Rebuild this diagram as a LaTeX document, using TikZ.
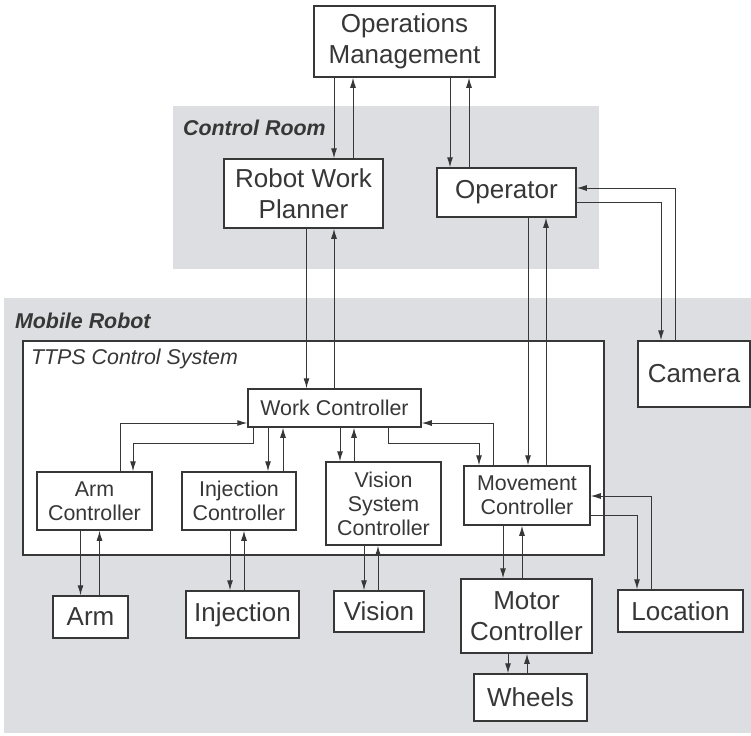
\documentclass[tikz,border=0pt]{standalone}
\usepackage{fontspec}
\setmainfont{Liberation Sans}
\usetikzlibrary{arrows.meta,positioning,calc}

\definecolor{regionc}{RGB}{220,222,225}
\definecolor{linec}{RGB}{55,55,55}

\newcommand{\bigfont}{\fontsize{13}{15.5}\selectfont}
\newcommand{\smallfont}{\fontsize{10.7}{12}\selectfont}

\tikzset{
  box/.style={draw=linec, fill=white, line width=0.75pt, inner sep=0pt,
    align=center, text=linec, font=\bigfont},
  smallbox/.style={box, font=\smallfont},
  boxsize/.style 2 args={minimum width=#1*0.5pt, minimum height=#2*0.5pt},
  arr/.style={draw=linec, line width=0.5pt, -{Latex[length=5pt,width=3pt]}},
  line/.style={draw=linec, line width=0.5pt},
  region/.style={fill=regionc, draw=none},
  regionlabel/.style={anchor=west, text=linec, font=\smallfont\bfseries\itshape},
}

\begin{document}
\begin{tikzpicture}[x=0.5pt, y=-0.5pt]
\useasboundingbox (0,0) rectangle (751,735);

% areas
\fill[region] (173,106) rectangle (599,269);
\fill[region] (4,298) rectangle (751,733);
\draw[line, fill=white, line width=0.75pt] (23,341) rectangle (604,555);
\node[regionlabel] (croom) at (176,128) {Control Room};
\node[regionlabel] (mrobot) at (8,321) {Mobile Robot};
\node[anchor=west, text=linec, font=\smallfont\itshape] (ttps) at (24,359) {TTPS Control System};

% outside boxes
\node[box, boxsize={181}{71}] (ops) at (404.5,41.5) {Operations\\Management};
\node[box, boxsize={159}{69}] (rwp) at (303.5,193.5) {Robot Work\\Planner};
\node[box, boxsize={139}{49}] (oper) at (506.5,192.5) {Operator};
\node[box, boxsize={112}{66}] (camera) at (694,374) {Camera};

% control system
\node[smallbox, boxsize={173}{38}] (wc) at (334.5,408) {Work Controller};
\node[smallbox, boxsize={115}{58}] (armc) at (94.5,501) {Arm\\Controller};
\node[smallbox, boxsize={114}{58}] (injc) at (239,501) {Injection\\Controller};
\node[smallbox, boxsize={115}{83}] (visc) at (383.5,503.5) {Vision\\System\\Controller};
\node[smallbox, boxsize={126}{59}] (movc) at (527,495.5) {Movement\\Controller};

% devices
\node[box, boxsize={75}{42}] (arm) at (90.5,617) {Arm};
\node[box, boxsize={113}{47}] (inj) at (242.5,614.5) {Injection};
\node[box, boxsize={90}{41}] (vis) at (379,611.5) {Vision};
\node[box, boxsize={131}{74}] (motor) at (526.5,616) {Motor\\Controller};
\node[box, boxsize={125}{42}] (loc) at (680.5,611) {Location};
\node[box, boxsize={113}{47}] (wheels) at (530.5,697.5) {Wheels};

% control room links
\draw[arr] (ops.south -| 334,0) -- (rwp.north -| 334,0);
\draw[arr] (rwp.north -| 353,0) -- (ops.south -| 353,0);
\draw[arr] (ops.south -| 450,0) -- (oper.north -| 450,0);
\draw[arr] (oper.north -| 469,0) -- (ops.south -| 469,0);
\draw[arr] (rwp.south -| 306.5,0) -- (wc.north -| 306.5,0);
\draw[arr] (wc.north -| 334,0) -- (rwp.south -| 334,0);
\draw[arr] (oper.south -| 528,0) -- (movc.north -| 528,0);
\draw[arr] (movc.north -| 546,0) -- (oper.south -| 546,0);
\draw[arr] (oper.east |- 0,202) -| (661,0 |- camera.north);
\draw[arr] (675,0 |- camera.north) |- (oper.east |- 0,188);

% work controller links
\draw[arr] (wc.south -| 253,0) -- ++(0,16) -| (armc.north -| 133,0);
\draw[arr] (armc.north -| 120,0) |- (wc.west |- 0,423);
\draw[arr] (wc.south -| 268,0) -- (injc.north -| 268,0);
\draw[arr] (injc.north -| 283,0) -- (wc.south -| 283,0);
\draw[arr] (wc.south -| 340,0) -- (visc.north -| 340,0);
\draw[arr] (visc.north -| 354,0) -- (wc.south -| 354,0);
\draw[arr] (wc.south -| 388,0) -- ++(0,16) -| (movc.north -| 479,0);
\draw[arr] (movc.north -| 493,0) |- (wc.east |- 0,423);

% device links
\draw[arr] (armc.south -| 80.5,0) -- (arm.north -| 80.5,0);
\draw[arr] (arm.north -| 99.5,0) -- (armc.south -| 99.5,0);
\draw[arr] (injc.south -| 230,0) -- (inj.north -| 230,0);
\draw[arr] (inj.north -| 244,0) -- (injc.south -| 244,0);
\draw[arr] (visc.south -| 364,0) -- (vis.north -| 364,0);
\draw[arr] (vis.north -| 378,0) -- (visc.south -| 378,0);
\draw[arr] (movc.south -| 503,0) -- (motor.north -| 503,0);
\draw[arr] (motor.north -| 522,0) -- (movc.south -| 522,0);
\draw[arr] (motor.south -| 508,0) -- (wheels.north -| 508,0);
\draw[arr] (wheels.north -| 527,0) -- (motor.south -| 527,0);
\draw[arr] (movc.east |- 0,515) -| (637,0 |- loc.north);
\draw[arr] (651,0 |- loc.north) |- (movc.east |- 0,496);

\end{tikzpicture}
\end{document}
